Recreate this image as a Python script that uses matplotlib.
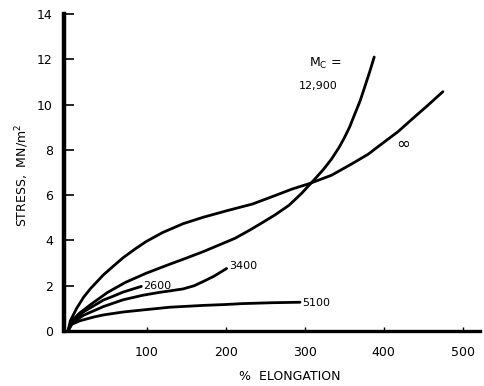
import matplotlib
matplotlib.use("Agg")
import matplotlib.pyplot as plt

# ---- data ----
inf_x = [0, 3, 11, 20, 29, 45, 58, 70, 85, 99, 120, 146, 171, 200, 234, 260, 284, 305,
         334, 359, 380, 397, 418, 438, 456, 475]
inf_y = [0, 0.45, 1.0, 1.5, 1.89, 2.48, 2.88, 3.24, 3.62, 3.95, 4.35, 4.74, 5.02, 5.3, 5.61,
         5.95, 6.27, 6.5, 6.88, 7.37, 7.8, 8.25, 8.8, 9.42, 9.97, 10.57]

m12900_x = [0, 5, 15, 30, 50, 73, 99, 129, 150, 171, 195, 212, 230, 246, 262, 280, 296,
            313, 324, 334, 343, 350, 357, 363, 370, 376, 382, 388]
m12900_y = [0, 0.45, 0.8, 1.2, 1.7, 2.15, 2.55, 2.95, 3.22, 3.5, 3.85, 4.1, 4.45, 4.78, 5.12,
            5.55, 6.08, 6.72, 7.15, 7.6, 8.08, 8.52, 9.02, 9.55, 10.15, 10.78, 11.42, 12.1]

m3400_x = [0, 5, 20, 45, 70, 95, 115, 129, 146, 160, 171, 185, 201]
m3400_y = [0, 0.35, 0.7, 1.08, 1.38, 1.58, 1.7, 1.77, 1.86, 2.0, 2.18, 2.42, 2.76]

m2600_x = [0, 5, 20, 45, 54, 70, 93]
m2600_y = [0, 0.4, 0.85, 1.37, 1.49, 1.72, 1.97]

m5100_x = [0, 5, 15, 33, 45, 70, 95, 129, 171, 200, 221, 260, 294]
m5100_y = [0, 0.3, 0.45, 0.62, 0.71, 0.84, 0.93, 1.05, 1.13, 1.17, 1.21, 1.25, 1.27]

x_ticks = [100, 200, 300, 400, 500]
y_ticks = [0, 2, 4, 6, 8, 10, 12, 14]

fig = plt.figure(figsize=(4.84, 3.86), dpi=100)
ax = fig.add_axes([64 / 484, 1 - 331 / 386, (480 - 64) / 484, (331 - 14) / 386])

lw = 2.0
for xs, ys in [(inf_x, inf_y), (m12900_x, m12900_y), (m3400_x, m3400_y),
               (m2600_x, m2600_y), (m5100_x, m5100_y)]:
    ax.plot(xs, ys, color="black", lw=lw, solid_capstyle="round", solid_joinstyle="round")

ax.set_xlim(-5, 522)
ax.set_ylim(0, 14)
ax.set_xticks(x_ticks)
ax.set_yticks(y_ticks)
ax.set_xticklabels([str(v) for v in x_ticks], fontsize=9)
ax.set_yticklabels([str(v) for v in y_ticks], fontsize=9)

for s in ["top", "right"]:
    ax.spines[s].set_visible(False)
ax.spines["left"].set_linewidth(3.2)
ax.spines["bottom"].set_linewidth(2.4)
ax.tick_params(axis="y", direction="in", length=7, width=1.2, pad=8)
ax.tick_params(axis="x", direction="in", length=3, width=1.0, pad=11)

# curve labels
ax.text(306, 11.8, "M$_\\mathrm{C}$ =", fontsize=9, ha="left", va="center")
ax.text(293, 10.8, "12,900", fontsize=8, ha="left", va="center")
ax.text(425, 8.25, "∞", fontsize=12, ha="center", va="center")
ax.text(204, 2.85, "3400", fontsize=8, ha="left", va="center")
ax.text(95, 1.97, "2600", fontsize=8, ha="left", va="center")
ax.text(297, 1.25, "5100", fontsize=8, ha="left", va="center")

fig.text(22 / 484, 1 - 175 / 386, "STRESS,  MN/m$^2$", rotation=90, fontsize=9,
         ha="center", va="center")
fig.text(290 / 484, 1 - 377 / 386, "%  ELONGATION", fontsize=9, ha="center", va="center")

fig.savefig("out.png", dpi=100)
